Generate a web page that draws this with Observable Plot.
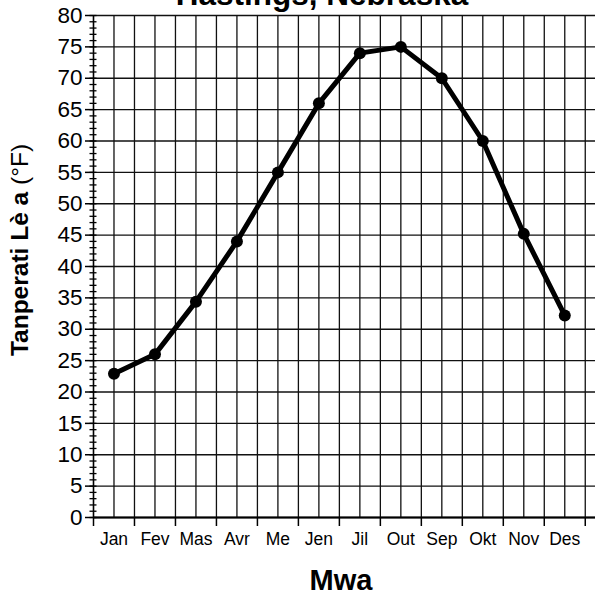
<!DOCTYPE html>
<html><head><meta charset="utf-8">
<script src="https://cdn.jsdelivr.net/npm/d3@7"></script>
<script src="https://cdn.jsdelivr.net/npm/@observablehq/plot@0.6"></script>
<style>body{margin:0;background:#fff} svg{display:block}</style>
</head><body><div id="chart"></div>
<script>
const months = ["Jan","Fev","Mas","Avr","Me","Jen","Jil","Out","Sep","Okt","Nov","Des"];
const temps = [22.9, 26, 34.4, 44, 55, 66, 74, 75, 70, 60, 45.2, 32.2];
const yMajorTicks = [0,5,10,15,20,25,30,35,40,45,50,55,60,65,70,75,80];
const yMinorTicks = d3.range(0, 81, 1);
const title = "Hastings, Nebraska";
const xTitle = "Mwa";
const yTitleBold = "Tanperati Lè a";
const yTitleUnit = "(°F)";

const data = months.map((m, i) => ({month: m, pos: i + 0.5, temp: temps[i]}));
const monthEdges = d3.range(0, 13);
const halfMonthGrid = d3.range(1, 25).map(k => k / 2);
const font = "'Liberation Sans', Arial, Helvetica, sans-serif";

const svg = Plot.plot({
  width: 597,
  height: 603,
  marginLeft: 93,
  marginRight: 2,
  marginTop: 15,
  marginBottom: 86,
  style: {fontFamily: font, background: "#fff", color: "#000"},
  x: {type: "linear", domain: [0, 12.25]},
  y: {domain: [0, 80]},
  marks: [
    Plot.gridY({ticks: yMajorTicks, stroke: "#111", strokeOpacity: 1, strokeWidth: 1.3}),
    Plot.gridX({ticks: halfMonthGrid, stroke: "#111", strokeOpacity: 1, strokeWidth: 1.3}),
    Plot.ruleX([0], {stroke: "#000", strokeWidth: 1.6}),
    Plot.ruleY([0], {stroke: "#000", strokeWidth: 2.2}),
    Plot.axisY({ticks: yMajorTicks, tickSize: 8, tickPadding: 3, fontSize: 22.5, label: null, strokeWidth: 1.5}),
    Plot.axisY({ticks: yMinorTicks, tickSize: 7, dx: 3.5, tickFormat: () => "", label: null, strokeWidth: 1.3}),
    Plot.axisX({ticks: monthEdges, tickSize: 9, tickFormat: () => "", label: null, strokeWidth: 1.5}),
    Plot.axisX({ticks: data.map(d => d.pos), tickSize: 0, tickPadding: 15, fontSize: 17.5,
      tickFormat: d => months[Math.floor(d)], label: null}),
    Plot.line(data, {x: "pos", y: "temp", stroke: "#000", strokeWidth: 5, strokeLinejoin: "round"}),
    Plot.dot(data, {x: "pos", y: "temp", r: 6, fill: "#000", stroke: "none"})
  ]
});

const s = d3.select(svg);
s.append("text")
  .attr("x", 322).attr("y", 5)
  .attr("text-anchor", "middle")
  .attr("font-family", font).attr("font-weight", "bold").attr("font-size", 31.5)
  .attr("fill", "#000")
  .text(title);
s.append("text")
  .attr("x", 341).attr("y", 590)
  .attr("text-anchor", "middle")
  .attr("font-family", font).attr("font-weight", "bold").attr("font-size", 29)
  .attr("fill", "#000")
  .text(xTitle);
const yl = s.append("text")
  .attr("transform", "translate(28,250) rotate(-90)")
  .attr("text-anchor", "middle")
  .attr("font-family", font).attr("font-size", 24.5)
  .attr("fill", "#000");
yl.append("tspan").attr("font-weight", "bold").text(yTitleBold + " ");
yl.append("tspan").attr("font-weight", "normal").text(yTitleUnit);

document.getElementById("chart").appendChild(svg);
</script>
</body></html>
